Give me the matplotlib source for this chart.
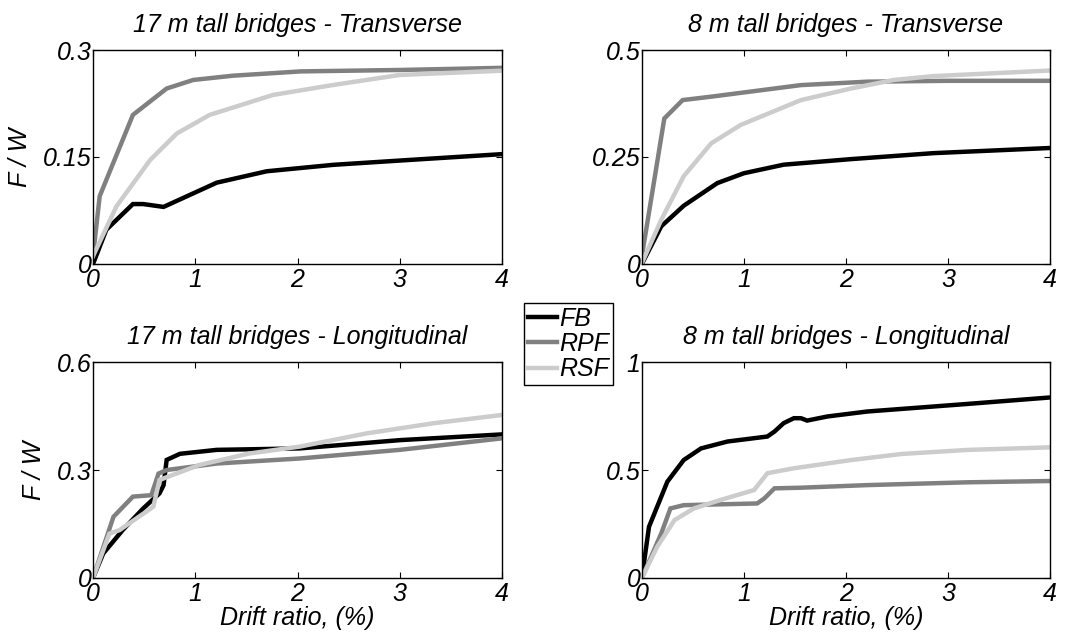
import matplotlib.pyplot as plt

plt.rcParams['font.family'] = ['Liberation Sans', 'DejaVu Sans']
plt.rcParams['font.style'] = 'italic'

series_names = ["FB", "RPF", "RSF"]
series_colors = ["#000000", "#808080", "#cccccc"]

# 17 m tall - Transverse
tt_fb_x = [0, 0.13, 0.39, 0.49, 0.69, 0.98, 1.21, 1.7, 2.35, 3.0, 4.0]
tt_fb_y = [0, 0.048, 0.084, 0.084, 0.080, 0.099, 0.114, 0.130, 0.139, 0.145, 0.154]
tt_rpf_x = [0, 0.065, 0.39, 0.72, 0.98, 1.37, 2.03, 3.0, 4.0]
tt_rpf_y = [0.011, 0.095, 0.209, 0.246, 0.258, 0.264, 0.270, 0.272, 0.275]
tt_rsf_x = [0, 0.23, 0.56, 0.82, 1.14, 1.76, 2.35, 3.0, 4.0]
tt_rsf_y = [0.011, 0.081, 0.146, 0.183, 0.209, 0.237, 0.251, 0.265, 0.271]

# 8 m tall - Transverse
st_fb_x = [0, 0.19, 0.41, 0.74, 1.0, 1.39, 2.05, 2.86, 4.0]
st_fb_y = [0, 0.088, 0.136, 0.189, 0.212, 0.232, 0.245, 0.259, 0.271]
st_rpf_x = [0, 0.22, 0.40, 0.68, 1.56, 2.21, 3.0, 4.0]
st_rpf_y = [0.018, 0.340, 0.383, 0.391, 0.418, 0.426, 0.428, 0.428]
st_rsf_x = [0, 0.19, 0.41, 0.68, 0.97, 1.56, 2.05, 2.47, 2.86, 4.0]
st_rsf_y = [0.002, 0.103, 0.205, 0.282, 0.325, 0.383, 0.410, 0.430, 0.439, 0.452]

# 17 m tall - Longitudinal
tl_fb_x = [0, 0.1, 0.29, 0.49, 0.65, 0.69, 0.72, 0.85, 1.21, 2.02, 3.0, 4.0]
tl_fb_y = [0, 0.068, 0.133, 0.193, 0.235, 0.258, 0.328, 0.345, 0.356, 0.360, 0.383, 0.399]
tl_rpf_x = [0, 0.2, 0.39, 0.57, 0.64, 0.72, 1.21, 2.02, 3.0, 4.0]
tl_rpf_y = [0, 0.170, 0.226, 0.230, 0.290, 0.300, 0.318, 0.332, 0.356, 0.388]
tl_rsf_x = [0, 0.16, 0.26, 0.59, 0.65, 0.72, 1.04, 1.53, 2.02, 2.68, 3.33, 4.0]
tl_rsf_y = [0, 0.123, 0.133, 0.198, 0.272, 0.280, 0.314, 0.346, 0.365, 0.402, 0.430, 0.453]

# 8 m tall - Longitudinal
sl_fb_x = [0, 0.07, 0.25, 0.41, 0.58, 0.84, 1.23, 1.30, 1.39, 1.49, 1.56, 1.62, 1.82, 2.21, 3.19, 4.0]
sl_fb_y = [0, 0.237, 0.446, 0.546, 0.600, 0.632, 0.655, 0.678, 0.717, 0.740, 0.740, 0.729, 0.748, 0.771, 0.806, 0.836]
sl_rpf_x = [0, 0.19, 0.28, 0.41, 1.13, 1.2, 1.3, 1.56, 2.21, 3.19, 4.0]
sl_rpf_y = [0, 0.206, 0.322, 0.337, 0.345, 0.368, 0.415, 0.418, 0.430, 0.443, 0.449]
sl_rsf_x = [0, 0.15, 0.32, 0.51, 0.77, 1.1, 1.23, 1.49, 2.05, 2.54, 3.19, 4.0]
sl_rsf_y = [0, 0.144, 0.268, 0.322, 0.361, 0.407, 0.485, 0.508, 0.546, 0.574, 0.593, 0.605]

panels = [
    ("17 m tall bridges - Transverse", [0, 0.15, 0.3], ["0", "0.15", "0.3"],
     [(tt_fb_x, tt_fb_y), (tt_rpf_x, tt_rpf_y), (tt_rsf_x, tt_rsf_y)]),
    ("8 m tall bridges - Transverse", [0, 0.25, 0.5], ["0", "0.25", "0.5"],
     [(st_fb_x, st_fb_y), (st_rpf_x, st_rpf_y), (st_rsf_x, st_rsf_y)]),
    ("17 m tall bridges - Longitudinal", [0, 0.3, 0.6], ["0", "0.3", "0.6"],
     [(tl_fb_x, tl_fb_y), (tl_rpf_x, tl_rpf_y), (tl_rsf_x, tl_rsf_y)]),
    ("8 m tall bridges - Longitudinal", [0, 0.5, 1], ["0", "0.5", "1"],
     [(sl_fb_x, sl_fb_y), (sl_rpf_x, sl_rpf_y), (sl_rsf_x, sl_rsf_y)]),
]

positions = [
    [0.0871, 0.583, 0.383, 0.338],
    [0.601, 0.583, 0.382, 0.338],
    [0.0871, 0.087, 0.383, 0.341],
    [0.601, 0.087, 0.382, 0.341],
]

fs = 18
fig = plt.figure(figsize=(10.68, 6.33), dpi=100)

for i, (title, yt, ytl, curves) in enumerate(panels):
    ax = fig.add_axes(positions[i])
    for (x, y), name, col in zip(curves, series_names, series_colors):
        ax.plot(x, y, color=col, lw=3.2, label=name, solid_joinstyle='miter')
    ax.set_xlim(0, 4)
    ax.set_ylim(yt[0], yt[-1])
    ax.set_xticks([0, 1, 2, 3, 4])
    ax.set_xticklabels(["0", "1", "2", "3", "4"])
    ax.set_yticks(yt)
    ax.set_yticklabels(ytl)
    ax.tick_params(direction='in', top=True, right=True, length=4, labelsize=fs)
    ax.tick_params(axis='x', pad=3)
    ax.tick_params(axis='y', pad=1)
    ax.set_title(title, fontsize=fs, pad=13)
    for s in ax.spines.values():
        s.set_linewidth(1)
    if i % 2 == 0:
        ax.set_ylabel("F / W", fontsize=fs, labelpad=8)
    if i >= 2:
        ax.set_xlabel("Drift ratio, (%)", fontsize=fs, labelpad=0)
    if i == 0:
        handles, labels = ax.get_legend_handles_labels()

leg = fig.legend(handles, labels, loc='upper left', bbox_to_anchor=(0.491, 0.521),
                 fontsize=fs, handlelength=1.15, handletextpad=0.1, borderpad=0.15,
                 labelspacing=0.05, fancybox=False, framealpha=1, borderaxespad=0)
leg.get_frame().set_edgecolor('black')
leg.get_frame().set_linewidth(1)

fig.savefig("out.png", dpi=100)
